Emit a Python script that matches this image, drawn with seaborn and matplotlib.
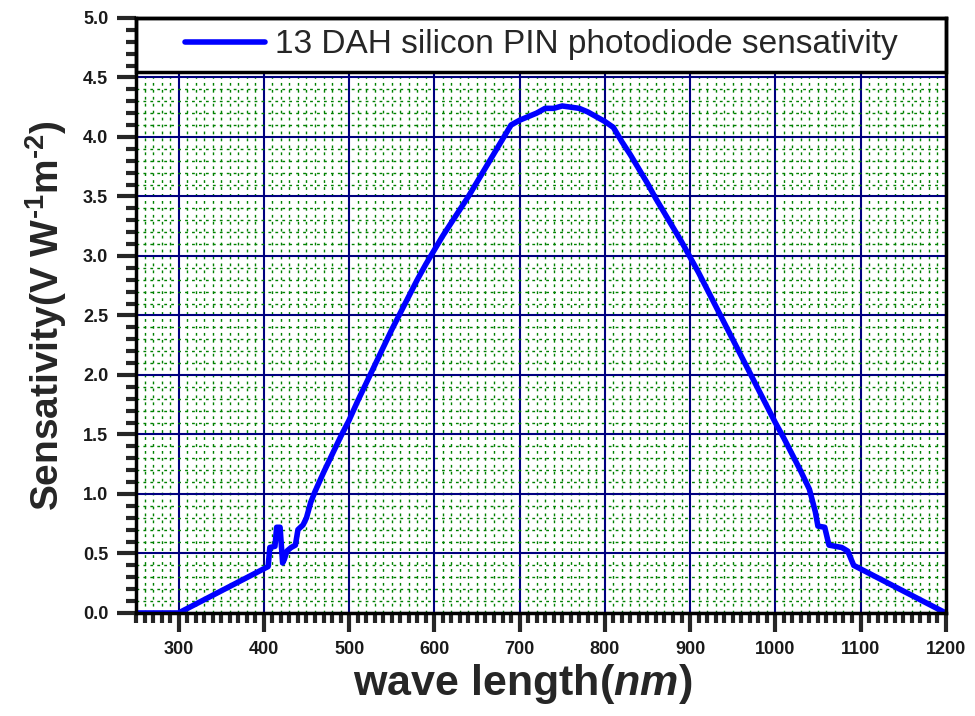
import numpy as np
import pandas as pd
import matplotlib
matplotlib.use("Agg")
import matplotlib.pyplot as plt
import seaborn as sns
from matplotlib.patches import Rectangle
from matplotlib.ticker import MultipleLocator

# ---- data ----
wavelength = [250, 300, 405, 407, 413, 415, 419, 422, 424, 427, 432, 437, 440, 446,
              450, 455, 460, 470, 480, 490, 500, 510, 520, 530, 540, 550, 560, 570,
              580, 590, 600, 610, 620, 630, 640, 650, 660, 670, 680, 690, 700, 710,
              720, 730, 740, 750, 760, 770, 780, 790, 800, 810, 820, 830, 840, 850,
              860, 870, 880, 890, 900, 910, 920, 930, 940, 950, 960, 970, 980, 990,
              1000, 1010, 1020, 1030, 1040, 1047, 1050, 1058, 1063, 1078, 1085, 1092,
              1200]
sensitivity = [0.0, 0.0, 0.39, 0.55, 0.56, 0.72, 0.72, 0.42, 0.45, 0.52, 0.55, 0.57, 0.70, 0.74,
               0.80, 0.93, 1.02, 1.18, 1.33, 1.48, 1.62, 1.78, 1.93, 2.08, 2.23, 2.38, 2.52, 2.66,
               2.80, 2.93, 3.05, 3.17, 3.28, 3.39, 3.50, 3.62, 3.74, 3.86, 3.98, 4.10, 4.14, 4.17,
               4.20, 4.24, 4.24, 4.26, 4.25, 4.24, 4.21, 4.17, 4.13, 4.08, 3.96, 3.85, 3.73, 3.61,
               3.48, 3.36, 3.24, 3.12, 2.99, 2.86, 2.72, 2.58, 2.44, 2.30, 2.16, 2.02, 1.88, 1.74,
               1.60, 1.47, 1.33, 1.19, 1.04, 0.85, 0.73, 0.72, 0.57, 0.55, 0.52, 0.40,
               0.0]
series_label = "13 DAH silicon PIN photodiode sensativity"
x_ticks = [300, 400, 500, 600, 700, 800, 900, 1000, 1100, 1200]
y_ticks = [0.0, 0.5, 1.0, 1.5, 2.0, 2.5, 3.0, 3.5, 4.0, 4.5, 5.0]

df = pd.DataFrame({"wavelength": wavelength, "sensitivity": sensitivity})

sns.set_style("ticks")
plt.rcParams["font.family"] = ["Liberation Sans", "DejaVu Sans"]
plt.rcParams["mathtext.fontset"] = "custom"
plt.rcParams["mathtext.rm"] = "Liberation Sans:bold"
plt.rcParams["mathtext.bf"] = "Liberation Sans:bold"
plt.rcParams["mathtext.it"] = "Liberation Sans:bold:italic"
plt.rcParams["mathtext.default"] = "rm"

fig = plt.figure(figsize=(9.75, 7.16), dpi=100)
ax = fig.add_axes([0.1395, 0.1439, 0.8305, 0.8311])

sns.lineplot(data=df, x="wavelength", y="sensitivity", color="#0000FF", lw=4,
             ax=ax, legend=False, zorder=4, label=series_label)

ax.set_xlim(250, 1200)
ax.set_ylim(0, 5.0)
ax.set_xticks(x_ticks)
ax.set_yticks(y_ticks)
ax.set_xticklabels([str(v) for v in x_ticks])
ax.set_yticklabels([f"{v:.1f}" for v in y_ticks])
ax.xaxis.set_minor_locator(MultipleLocator(10))
ax.yaxis.set_minor_locator(MultipleLocator(0.1))

ax.set_axisbelow(True)
ax.grid(which="minor", color="#008000", linestyle=(0, (2, 3)), lw=1.0)
ax.grid(which="major", color="#00007F", linestyle="-", lw=1.5)

for s in ax.spines.values():
    s.set_linewidth(2.5)
    s.set_color("black")
    s.set_zorder(6)

ax.tick_params(which="major", direction="out", length=14, width=3, labelsize=13, pad=6,
               labelcolor="#1a1a1a")
ax.tick_params(which="minor", direction="out", length=7, width=3)
for lab in ax.get_xticklabels() + ax.get_yticklabels():
    lab.set_fontweight("bold")

ax.set_xlabel(r"wave length($\mathit{nm}$)", fontsize=31, fontweight="bold")
ax.xaxis.set_label_coords(0.478, -0.082)
ax.set_ylabel("Sensativity(V W$^{\u20101}$m$^{\u20102}$)",
              fontsize=28, fontweight="bold", labelpad=10)

# legend box across the top
ax.add_patch(Rectangle((0, 0.909), 1, 0.091, transform=ax.transAxes, facecolor="white",
                       edgecolor="black", lw=2.5, zorder=5, clip_on=False))
leg = ax.legend(loc="center", bbox_to_anchor=(0.5, 0.9545), frameon=False, fontsize=24,
                handlelength=2.4, handletextpad=0.3)
leg.set_zorder(7)

fig.savefig("out.png", dpi=100)
